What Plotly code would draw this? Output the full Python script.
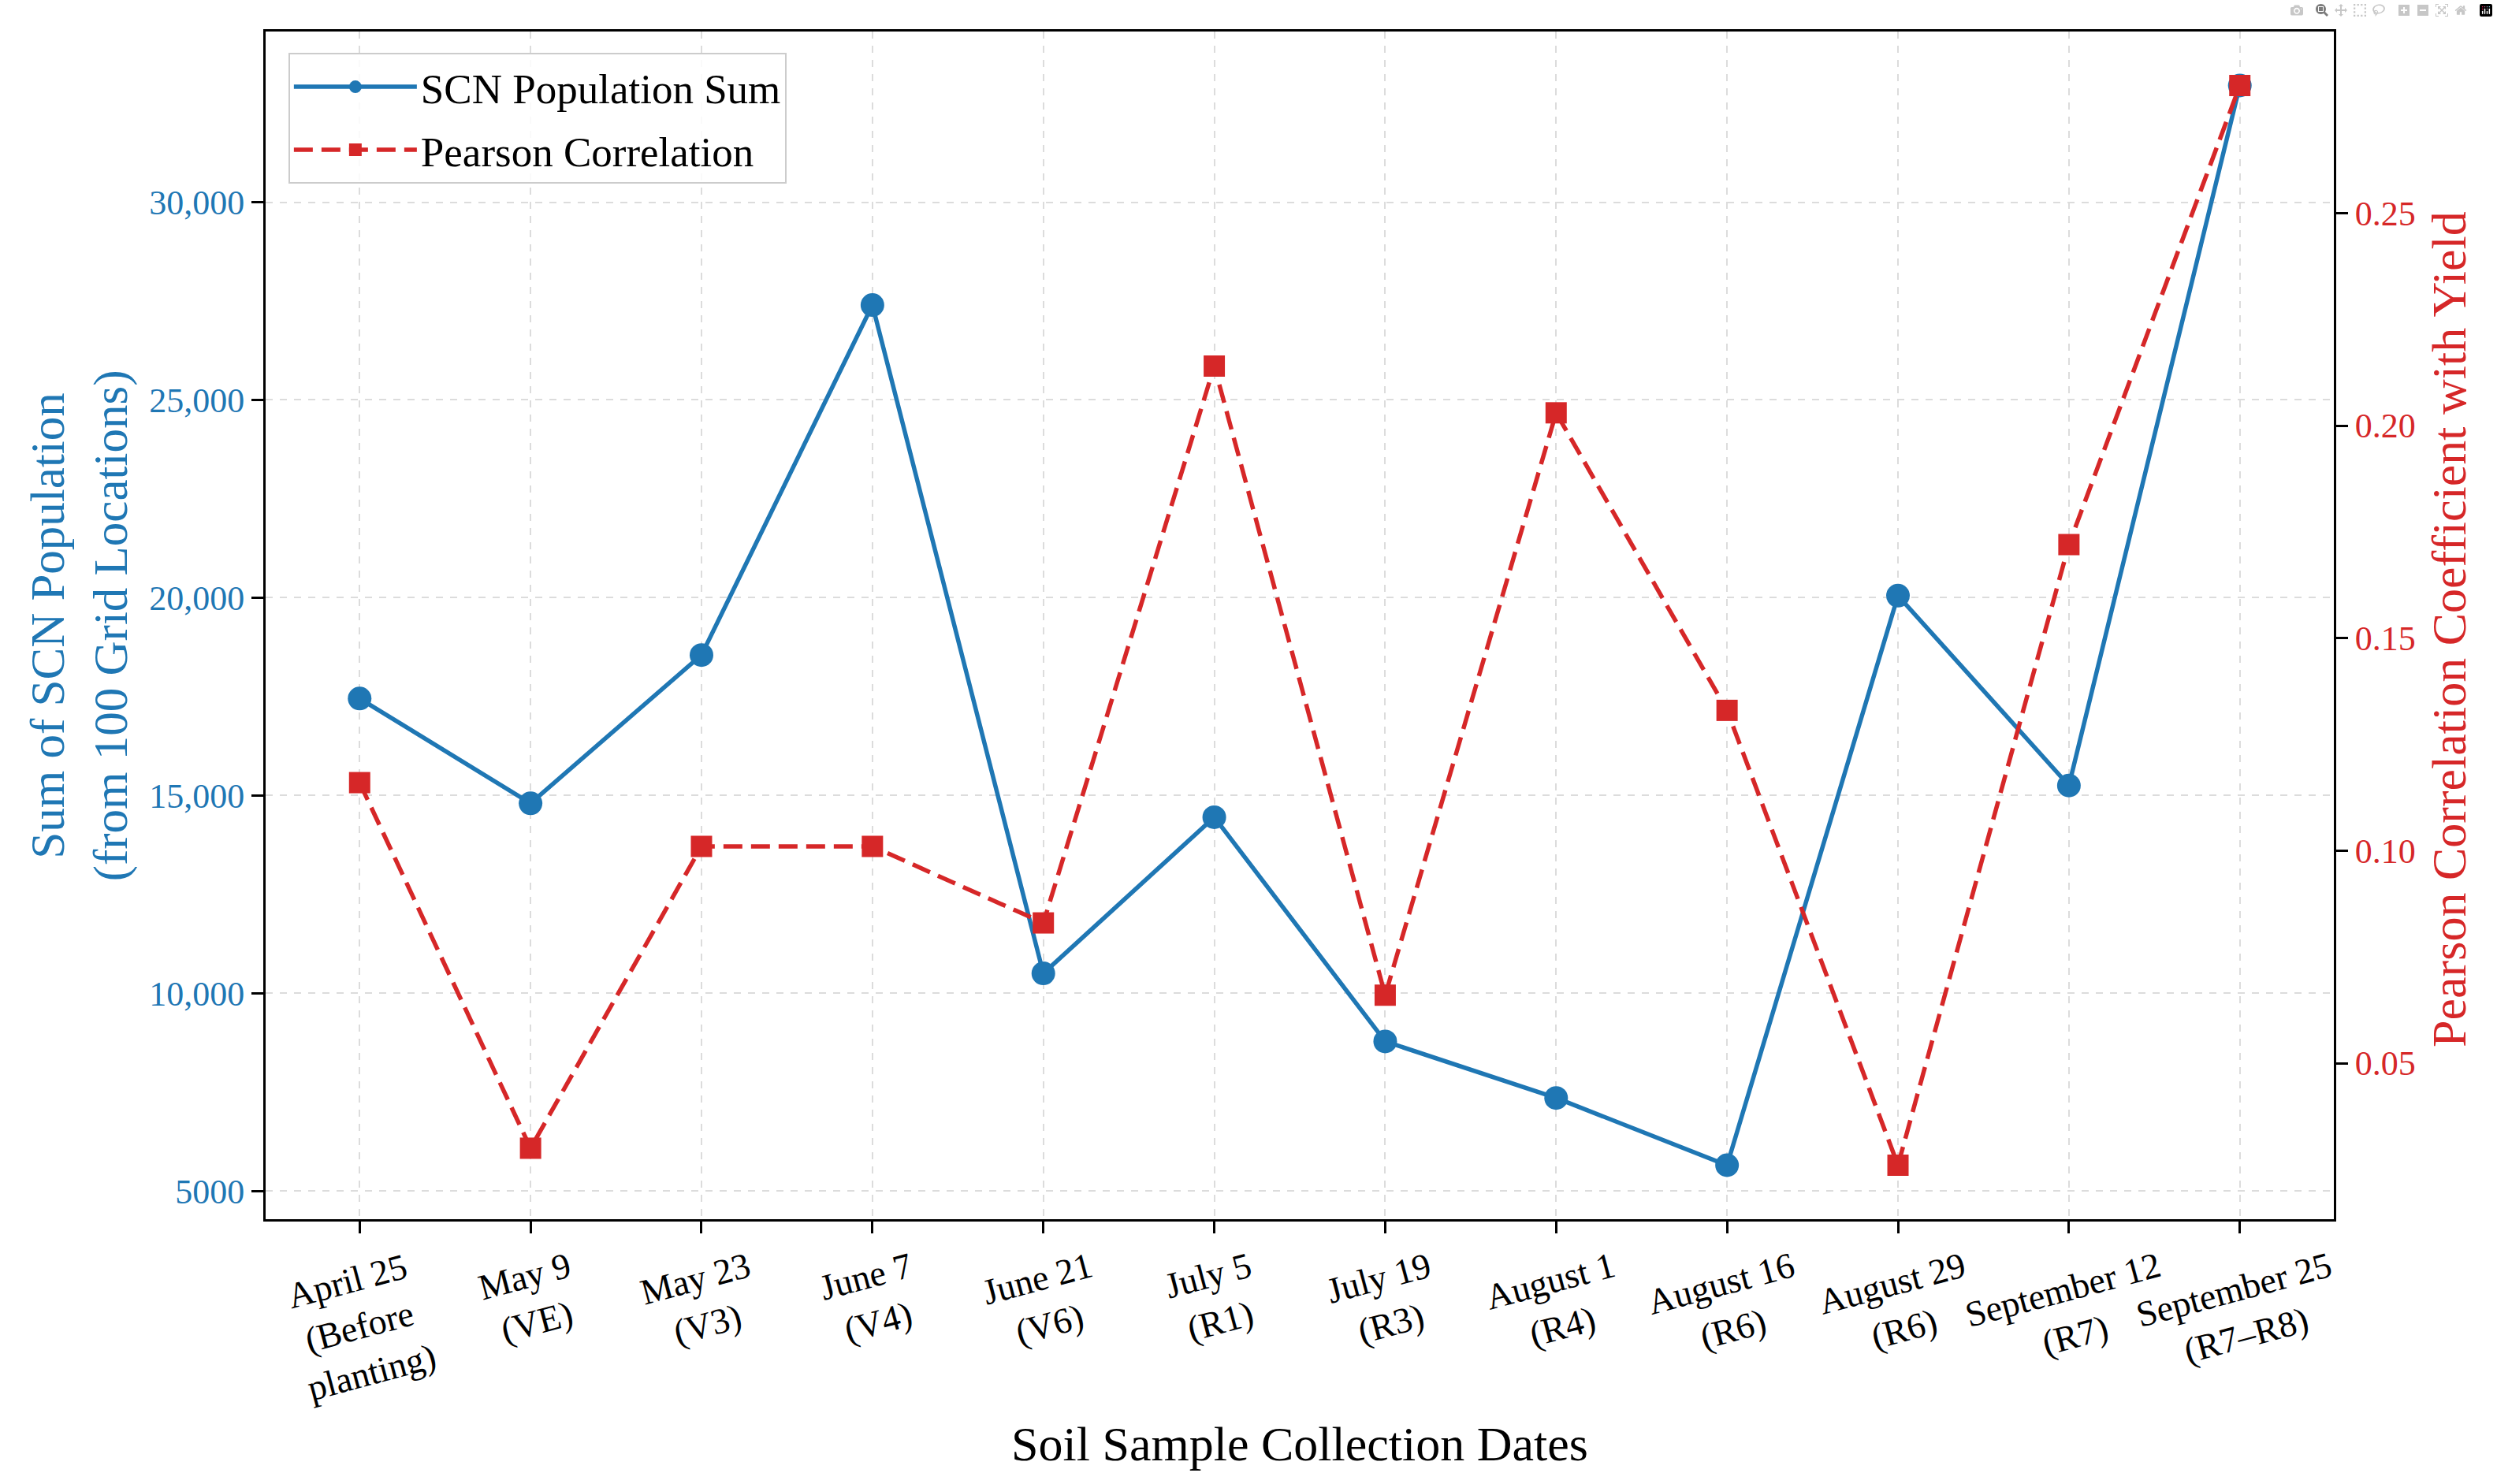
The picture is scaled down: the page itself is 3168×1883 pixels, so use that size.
import plotly.graph_objects as go

# ---- data ----
dates = ["April 25", "May 9", "May 23", "June 7", "June 21", "July 5",
         "July 19", "August 1", "August 16", "August 29", "September 12", "September 25"]
stages = ["Before<br>planting", "VE", "V3", "V4", "V6", "R1",
          "R3", "R4", "R6", "R6", "R7", "R7–R8"]
scn_sum = [17450, 14800, 18550, 27400, 10500, 14450, 8780, 7350, 5650, 20050, 15250, 32950]
pearson = [0.116, 0.030, 0.101, 0.101, 0.083, 0.214, 0.066, 0.203, 0.133, 0.026, 0.172, 0.280]

left_tickvals = [5000, 10000, 15000, 20000, 25000, 30000]
left_ticktext = ["5000", "10,000", "15,000", "20,000", "25,000", "30,000"]
right_tickvals = [0.05, 0.10, 0.15, 0.20, 0.25]
right_ticktext = ["0.05", "0.10", "0.15", "0.20", "0.25"]

BLUE = "#1f77b4"
RED = "#d62728"
FONT = "Liberation Serif, Times New Roman, serif"

W, H = 3168, 1883
L, R, T, B = 337, 207, 40, 336

fig = go.Figure()
fig.add_trace(go.Scatter(
    x=dates, y=scn_sum, name="SCN Population Sum", mode="lines+markers",
    line=dict(color=BLUE, width=5.5),
    marker=dict(symbol="circle", size=30, color=BLUE),
    yaxis="y", legendgroup="scn",
))
fig.add_trace(go.Scatter(
    x=dates, y=pearson, name="Pearson Correlation", mode="lines+markers",
    line=dict(color=RED, width=5.5, dash="24px,11px"),
    marker=dict(symbol="square", size=27, color=RED),
    yaxis="y2", legendgroup="pearson",
))

def pad(vals, f=0.05):
    lo, hi = min(vals), max(vals)
    d = (hi - lo) * f
    return [lo - d, hi + d]

n = len(dates)
fig.update_layout(
    width=W, height=H,
    margin=dict(l=L, r=R, t=T, b=B, pad=0),
    paper_bgcolor="white", plot_bgcolor="white",
    font=dict(family=FONT, size=44, color="black"),
    showlegend=True,
    legend=dict(
        x=0.011, y=0.982, xanchor="left", yanchor="top",
        bgcolor="rgba(255,255,255,0.85)", bordercolor="#cccccc", borderwidth=2,
        font=dict(family=FONT, size=53, color="black"),
        itemwidth=156, tracegroupgap=8, traceorder="grouped",
    ),
    xaxis=dict(
        type="category", categoryorder="array", categoryarray=dates,
        range=[-0.55, n - 1 + 0.55],
        showticklabels=False,
        ticks="outside", ticklen=15, tickwidth=3, tickcolor="black",
        showline=True, linecolor="black", linewidth=3, mirror=True,
        showgrid=True, gridcolor="#dcdcdc", gridwidth=2, griddash="dash",
        zeroline=False,
    ),
    yaxis=dict(
        range=pad(scn_sum),
        tickvals=left_tickvals, ticktext=left_ticktext,
        tickfont=dict(family=FONT, size=44, color=BLUE),
        ticks="outside", ticklen=15, tickwidth=3, tickcolor="black",
        showline=True, linecolor="black", linewidth=3,
        showgrid=True, gridcolor="#dcdcdc", gridwidth=2, griddash="dash",
        zeroline=False,
    ),
    yaxis2=dict(
        range=pad(pearson), overlaying="y", side="right",
        tickvals=right_tickvals, ticktext=right_ticktext,
        tickfont=dict(family=FONT, size=44, color=RED),
        ticks="outside", ticklen=15, tickwidth=3, tickcolor="black",
        showline=True, linecolor="black", linewidth=3,
        showgrid=False, zeroline=False,
    ),
)

annotations = []
for d, s in zip(dates, stages):
    annotations.append(dict(
        x=d, xref="x", y=0, yref="paper", yanchor="top", xanchor="center",
        yshift=-30, text=f"{d}<br>({s})", showarrow=False, textangle=-15,
        align="center", font=dict(family=FONT, size=46, color="black"),
    ))
annotations.append(dict(
    x=0.5, xref="paper", y=-0.189, yref="paper", xanchor="center", yanchor="middle",
    text="Soil Sample Collection Dates", showarrow=False,
    font=dict(family=FONT, size=62, color="black"),
))
annotations.append(dict(
    x=-0.09, xref="paper", y=0.5, yref="paper", xanchor="center", yanchor="middle",
    text="Sum of SCN Population<br>(from 100 Grid Locations)", showarrow=False,
    textangle=-90, align="center",
    font=dict(family=FONT, size=61, color=BLUE),
))
annotations.append(dict(
    x=1.0556, xref="paper", y=0.497, yref="paper", xanchor="center", yanchor="middle",
    text="Pearson Correlation Coefficient with Yield", showarrow=False,
    textangle=-90, font=dict(family=FONT, size=62, color=RED),
))
fig.update_layout(annotations=annotations)

fig.write_html("out.html", post_script="document.body.style.margin='0';")
